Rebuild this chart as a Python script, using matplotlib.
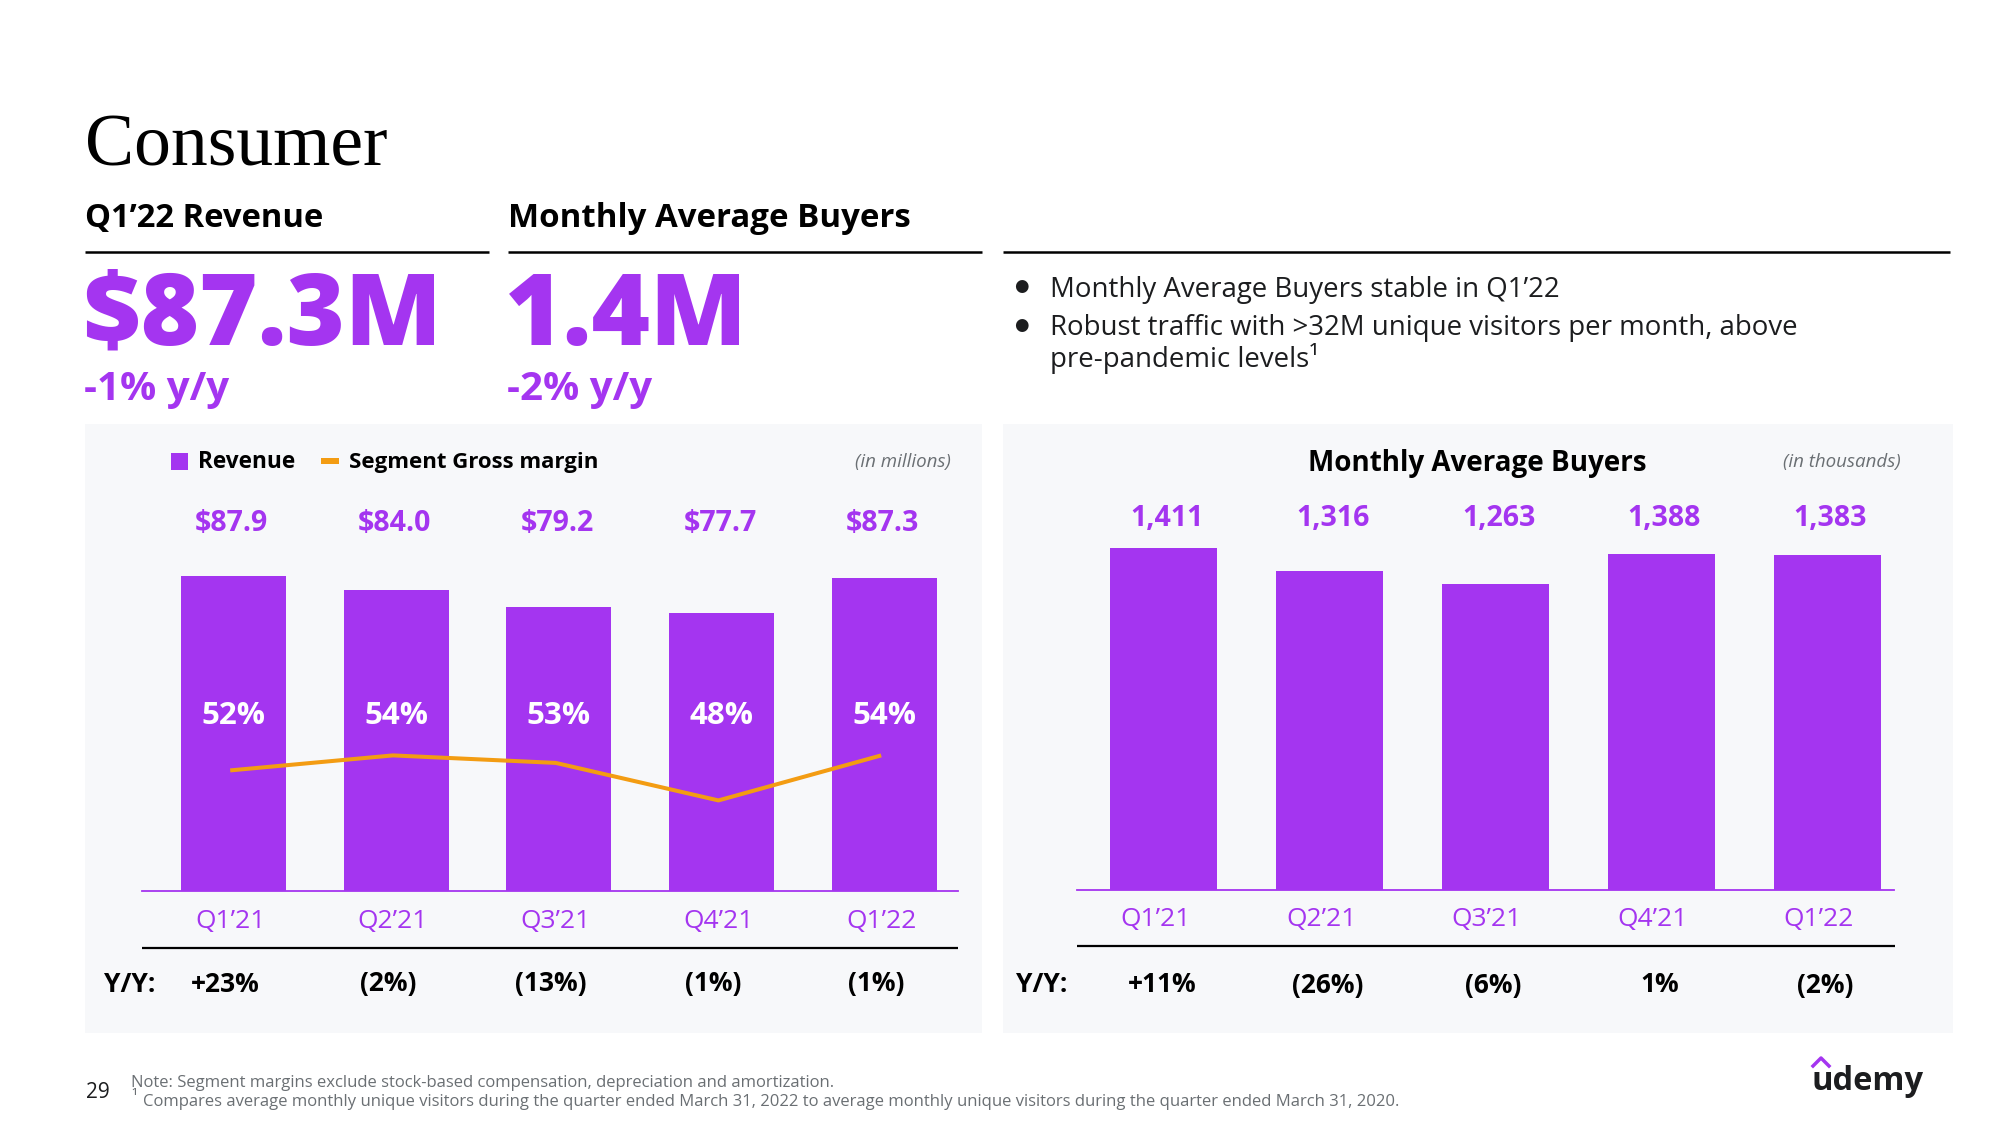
import matplotlib
matplotlib.use("Agg")
import matplotlib.pyplot as plt
from matplotlib.lines import Line2D
from matplotlib.patches import Rectangle

# ---------------- data ----------------
quarters = ["Q1\u201921", "Q2\u201921", "Q3\u201921", "Q4\u201921", "Q1\u201922"]
revenue = [87.9, 84.0, 79.2, 77.7, 87.3]
revenue_labels = ["$87.9", "$84.0", "$79.2", "$77.7", "$87.3"]
gross_margin = [52, 54, 53, 48, 54]
revenue_yy = ["+23%", "(2%)", "(13%)", "(1%)", "(1%)"]
buyers = [1411, 1316, 1263, 1388, 1383]
buyers_labels = ["1,411", "1,316", "1,263", "1,388", "1,383"]
buyers_yy = ["+11%", "(26%)", "(6%)", "1%", "(2%)"]

PURPLE = "#a435f0"
ORANGE = "#f39c12"
PANEL = "#f7f8fa"
GRAY = "#6a6f73"
FONT = ["Open Sans", "DejaVu Sans"]

plt.rcParams["font.family"] = FONT

W, H = 2000, 1125
fig = plt.figure(figsize=(20, 11.25), dpi=100)
fig.patch.set_facecolor("white")


def fx(x):
    return x / W


def fy(y):
    return 1 - y / H


def ft(x, y, s, **kw):
    return fig.text(fx(x), fy(y), s, **kw)


def fline(x0, x1, y, color="black", lw=1.5):
    fig.add_artist(Line2D([fx(x0), fx(x1)], [fy(y), fy(y)], transform=fig.transFigure,
                          color=color, lw=lw, solid_capstyle="butt"))


def frect(x0, y0, x1, y1, color, z=-1):
    fig.add_artist(Rectangle((fx(x0), fy(y1)), fx(x1) - fx(x0), fy(y0) - fy(y1),
                             transform=fig.transFigure, facecolor=color, edgecolor="none", zorder=z))


# ---------------- header ----------------
ft(85, 165, "Consumer", fontsize=53, family=["Liberation Serif", "DejaVu Serif"], va="baseline", color="black")
ft(85, 227, "Q1\u201922 Revenue", fontsize=23.6, weight="bold", va="baseline")
ft(508, 227, "Monthly Average Buyers", fontsize=23.8, weight="bold", va="baseline")
fline(85, 489, 252, lw=1.8)
fline(508, 982, 252, lw=1.8)
fline(1003, 1950, 252, lw=1.8)

ft(82, 345, "$87.3M", fontsize=72, weight="heavy", color=PURPLE, va="baseline")
ft(505, 345, "1.4M", fontsize=72, weight="heavy", color=PURPLE, va="baseline")
ft(84, 400, "-1% y/y", fontsize=29, weight="bold", color=PURPLE, va="baseline")
ft(507, 400, "-2% y/y", fontsize=29, weight="bold", color=PURPLE, va="baseline")

# bullets
BUL = 19.9
ft(1014, 287, "\u25cf", fontsize=12, va="center", color="#1c1d1f")
ft(1050, 297, "Monthly Average Buyers stable in Q1\u201922", fontsize=BUL, va="baseline", color="#1c1d1f")
ft(1014, 326, "\u25cf", fontsize=12, va="center", color="#1c1d1f")
ft(1050, 335, "Robust traffic with >32M unique visitors per month, above", fontsize=BUL, va="baseline", color="#1c1d1f")
ft(1050, 367, "pre-pandemic levels\u00b9", fontsize=BUL, va="baseline", color="#1c1d1f")

# panels
frect(85, 424, 982, 1033, PANEL)
frect(1003, 424, 1953, 1033, PANEL)

# ---------------- left chart ----------------
L_BOT, AX_H = 891, 460
ax1 = fig.add_axes([fx(142), fy(L_BOT), (958 - 142) / W, AX_H / H])
ax1.set_facecolor("none")
x1 = list(range(len(quarters)))
ax1.bar(x1, revenue, width=0.645, color=PURPLE, zorder=2)
ax1.set_xlim(-0.562, 4.452)
ax1.set_ylim(0, 128.5)
ax1.axhline(0, color=PURPLE, lw=1.3, zorder=3, clip_on=False)
ax1.axis("off")

axm = ax1.twinx()
axm.plot([i - 0.02 for i in x1], gross_margin, color=ORANGE, lw=2.9, zorder=4, solid_capstyle="butt")
axm.set_ylim(35.93, 97.23)
axm.set_xlim(-0.562, 4.452)
axm.axis("off")

tr1 = ax1.get_xaxis_transform()


def yl(y):
    return (L_BOT - y) / AX_H


for i in x1:
    ax1.text(i - 0.01, yl(523), revenue_labels[i], transform=tr1, ha="center", va="center",
             fontsize=20.5, weight="bold", color=PURPLE)
    ax1.text(i, yl(716), f"{gross_margin[i]}%", transform=tr1, ha="center", va="center",
             fontsize=22.5, weight="bold", color="white", zorder=5)
    ax1.text(i - 0.02, yl(922), quarters[i], transform=tr1, ha="center", va="center",
             fontsize=19, color=PURPLE, clip_on=False)
    ax1.text(i - 0.05, yl(984), revenue_yy[i], transform=tr1, ha="center", va="center",
             fontsize=19, weight="bold", color="black", clip_on=False)
fline(142, 958, 948, lw=1.6)
ft(104, 984, "Y/Y:", fontsize=19, weight="bold", va="center")

# legend
frect(171, 453, 188, 470, PURPLE, z=1)
ft(198, 462, "Revenue", fontsize=16.3, weight="bold", va="center")
frect(321, 458, 339, 464, ORANGE, z=1)
ft(349, 462, "Segment Gross margin", fontsize=16, weight="bold", va="center")
ft(951, 462, "(in millions)", fontsize=13.5, style="italic", color=GRAY, ha="right", va="center")

# ---------------- right chart ----------------
R_BOT = 890
ax2 = fig.add_axes([fx(1077), fy(R_BOT), (1894 - 1077) / W, AX_H / H])
ax2.set_facecolor("none")
x2 = list(range(len(quarters)))
ax2.bar(x2, buyers, width=0.645, color=PURPLE, zorder=2)
ax2.set_xlim(-0.521, 4.403)
ax2.set_ylim(0, 1900)
ax2.axhline(0, color=PURPLE, lw=1.3, zorder=3, clip_on=False)
ax2.axis("off")
tr2 = ax2.get_xaxis_transform()


def yr(y):
    return (R_BOT - y) / AX_H


for i in x2:
    ax2.text(i + 0.02, yr(518), buyers_labels[i], transform=tr2, ha="center", va="center",
             fontsize=20.5, weight="bold", color=PURPLE)
    ax2.text(i - 0.05, yr(920), quarters[i], transform=tr2, ha="center", va="center",
             fontsize=19, color=PURPLE, clip_on=False)
    ax2.text(i - 0.01, yr(985), buyers_yy[i], transform=tr2, ha="center", va="center",
             fontsize=19, weight="bold", color="black", clip_on=False)
fline(1077, 1895, 946, lw=1.6)
ft(1016, 985, "Y/Y:", fontsize=19, weight="bold", va="center")
ft(1477, 463, "Monthly Average Buyers", fontsize=20, weight="bold", ha="center", va="center")
ft(1901, 462, "(in thousands)", fontsize=13.5, style="italic", color=GRAY, ha="right", va="center")

# ---------------- footer ----------------
ft(86, 1093, "29", fontsize=15, va="center", color="#1c1d1f")
ft(131, 1083, "Note: Segment margins exclude stock-based compensation, depreciation and amortization.",
   fontsize=12, color=GRAY, va="center")
ft(131, 1098, "\u00b9", fontsize=12, color=GRAY, va="center")
ft(143, 1102, "Compares average monthly unique visitors during the quarter ended March 31, 2022 to average monthly unique visitors during the quarter ended March 31, 2020.",
   fontsize=12, color=GRAY, va="center")

# logo
ft(1812, 1090, "udemy", fontsize=23.5, weight="bold", va="baseline", color="#1c1d1f")
fig.add_artist(Line2D([fx(1813), fx(1821), fx(1829)], [fy(1066), fy(1058), fy(1066)],
                      transform=fig.transFigure, color=PURPLE, lw=2.5))

fig.savefig("out.png", dpi=100, facecolor="white")
